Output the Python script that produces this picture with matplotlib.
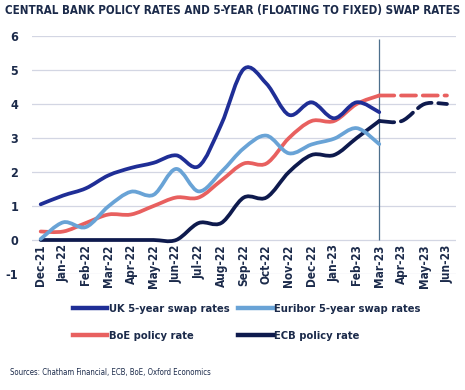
import matplotlib
matplotlib.use('Agg')
import matplotlib.pyplot as plt
from matplotlib.path import Path
from matplotlib.patches import PathPatch
from matplotlib.lines import Line2D
import numpy as np

plt.rcParams['font.family'] = ['DejaVu Sans']
plt.rcParams['font.stretch'] = 'condensed'
plt.rcParams['axes.unicode_minus'] = False

months = ['Dec-21', 'Jan-22', 'Feb-22', 'Mar-22', 'Apr-22', 'May-22', 'Jun-22', 'Jul-22',
          'Aug-22', 'Sep-22', 'Oct-22', 'Nov-22', 'Dec-22', 'Jan-23', 'Feb-23', 'Mar-23',
          'Apr-23', 'May-23', 'Jun-23']

uk_swap = [1.05, 1.31, 1.52, 1.90, 2.12, 2.27, 2.49, 2.17, 3.40, 5.03, 4.60, 3.68, 4.05, 3.58, 4.05, 3.76]
euribor_swap = [0.03, 0.52, 0.38, 0.99, 1.42, 1.33, 2.09, 1.43, 2.00, 2.70, 3.07, 2.55, 2.81, 2.98, 3.29, 2.82]
boe_rate = [0.25, 0.25, 0.50, 0.75, 0.75, 1.00, 1.25, 1.25, 1.75, 2.25, 2.25, 3.00, 3.50, 3.50, 4.00, 4.25]
ecb_rate = [0.00, 0.00, 0.00, 0.00, 0.00, 0.00, 0.00, 0.50, 0.50, 1.25, 1.25, 2.00, 2.50, 2.50, 3.00, 3.50]
boe_fcst = [4.25, 4.25, 4.25, 4.25]
ecb_fcst = [3.50, 3.50, 4.00, 4.00]

c_uk = '#1f2e96'
c_eur = '#69a3d6'
c_boe = '#e8605f'
c_ecb = '#0e1a4d'
c_text = '#1b2a4a'


def smooth_path(xs, ys):
    # catmull-rom style bezier like excel's smoothed lines
    pts = np.column_stack([xs, ys]).astype(float)
    n = len(pts)
    verts = [pts[0]]
    codes = [Path.MOVETO]
    for i in range(n - 1):
        p0 = pts[i - 1] if i > 0 else pts[i]
        p1 = pts[i]
        p2 = pts[i + 1]
        p3 = pts[i + 2] if i + 2 < n else pts[i + 1]
        verts += [p1 + (p2 - p0) / 6, p2 - (p3 - p1) / 6, p2]
        codes += [Path.CURVE4] * 3
    return Path(verts, codes)


fig = plt.figure(figsize=(4.65, 3.9), dpi=100)
ax = fig.add_axes([32 / 465, 1 - 274 / 390, 424 / 465, 238 / 390])

x = np.arange(len(uk_swap))
xf = np.arange(15, 19)

series = [(x, ecb_rate, c_ecb, '-'), (x, boe_rate, c_boe, '-'),
          (x, euribor_swap, c_eur, '-'), (x, uk_swap, c_uk, '-'),
          (xf, ecb_fcst, c_ecb, (0, (4, 1.8))), (xf, boe_fcst, c_boe, (0, (4, 1.8)))]
for xs, ys, col, ls in series:
    ax.add_patch(PathPatch(smooth_path(xs, ys), facecolor='none', edgecolor=col,
                           lw=2.7, linestyle=ls, capstyle='round', zorder=3))

ax.vlines(15, 0, 5.9, color='#4d6f8c', lw=0.9, zorder=2)

ax.set_xlim(-0.385, 18.4)
ax.set_ylim(-1, 6)
ax.set_yticks(range(-1, 7))
ax.yaxis.grid(True, color='#d3d6e3', lw=0.9)
ax.set_axisbelow(True)
for s in ax.spines.values():
    s.set_visible(False)
ax.spines['bottom'].set_position(('data', 0))
ax.set_xticks(range(len(months)))
ax.set_xticklabels(months, rotation=90, fontsize=8.5, color=c_text)
ax.tick_params(axis='x', length=0, pad=3)
ax.tick_params(axis='y', length=0, pad=10, labelsize=9, labelcolor=c_text)
for t in ax.get_yticklabels() + ax.get_xticklabels():
    t.set_fontweight('bold')

fig.text(0.011, 0.972, 'CENTRAL BANK POLICY RATES AND 5-YEAR (FLOATING TO FIXED) SWAP RATES',
         fontsize=8.3, fontweight='bold', color=c_text, va='center', ha='left')

handles = [Line2D([], [], color=c_uk, lw=3.2), Line2D([], [], color=c_boe, lw=3.2),
           Line2D([], [], color=c_eur, lw=3.2), Line2D([], [], color=c_ecb, lw=3.2)]
labels = ['UK 5-year swap rates', 'BoE policy rate', 'Euribor 5-year swap rates', 'ECB policy rate']
leg = fig.legend(handles, labels, ncol=2, loc='upper left', bbox_to_anchor=(73 / 465, 1 - 304 / 390),
                 frameon=False, fontsize=8.0, handlelength=3.1, handletextpad=0.15,
                 columnspacing=0.75, labelspacing=1.55, borderaxespad=0, borderpad=0)
for t in leg.get_texts():
    t.set_color(c_text)
    t.set_fontweight('semibold')

fig.text(10 / 465, 1 - 373 / 390, 'Sources: Chatham Financial, ECB, BoE, Oxford Economics',
         fontsize=5.6, color=c_text, va='center', ha='left')

fig.savefig('out.png', dpi=100)
